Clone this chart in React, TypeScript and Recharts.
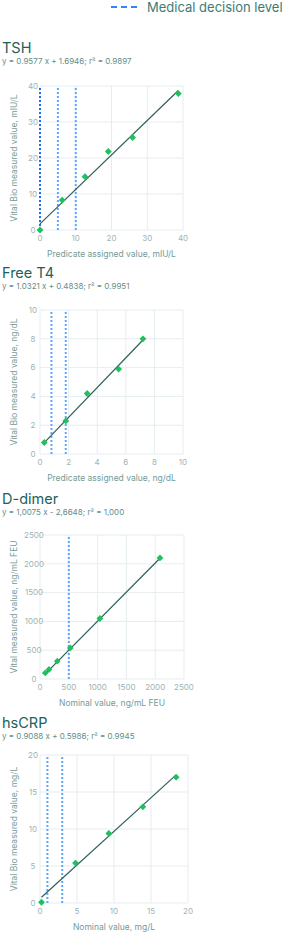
import React from 'react';
import { ScatterChart, Scatter, XAxis, YAxis, CartesianGrid, ReferenceLine } from 'recharts';

// TSH
const tshX = [0, 6.2, 12.6, 19.1, 25.9, 38.7];
const tshY = [0, 8.3, 14.8, 21.8, 25.7, 37.9];
const tshDecision = [0, 5, 10];
const tshTicks = [0, 10, 20, 30, 40];

// Free T4
const ft4X = [0.3, 1.8, 3.3, 5.5, 7.2];
const ft4Y = [0.8, 2.3, 4.2, 5.9, 8.0];
const ft4Decision = [0.8, 1.8];
const ft4Ticks = [0, 2, 4, 6, 8, 10];

// D-dimer
const ddX = [92, 156, 300, 526, 1040, 2083];
const ddY = [105, 165, 310, 540, 1050, 2102];
const ddDecision = [500];
const ddTicks = [0, 500, 1000, 1500, 2000, 2500];

// hsCRP
const crpX = [0.2, 4.8, 9.3, 13.9, 18.4];
const crpY = [0.1, 5.4, 9.4, 13.0, 17.0];
const crpDecision = [1, 3];
const crpTicks = [0, 5, 10, 15, 20];

const FONT = 'Inter, "DejaVu Sans", sans-serif';
const TITLE = '#22615b';
const SUB = '#5f8d89';
const AXLAB = '#749b97';
const TICK = '#9db4b2';
const GRID = '#e6edf0';
const DOT = '#1fbf5f';
const FIT = '#2e5f5a';

const Diamond = (props: any) => {
  const { cx, cy } = props;
  const r = 3.4;
  return <path d={`M${cx},${cy - r}L${cx + r},${cy}L${cx},${cy + r}L${cx - r},${cy}Z`} fill={DOT} />;
};

type PanelProps = {
  top: number;
  width: number;
  plotH: number;
  xs: number[];
  ys: number[];
  decision: number[];
  strongFirst?: boolean;
  ticks: number[];
  slope: number;
  intercept: number;
  xLabel: string;
  yLabel: string;
  yTickX: number;
};

const Panel = ({ top, width, plotH, xs, ys, decision, strongFirst, ticks, slope, intercept, xLabel, yLabel, yTickX }: PanelProps) => {
  const data = xs.map((x, i) => ({ x, y: ys[i] }));
  const x0 = xs[0];
  const x1 = xs[xs.length - 1];
  const domain = [ticks[0], ticks[ticks.length - 1]];
  return (
    <div style={{ position: 'absolute', left: 0, top }}>
      <ScatterChart width={width} height={plotH + 40} margin={{ top: 10, right: 15, bottom: 0, left: 0 }}>
        <CartesianGrid stroke={GRID} strokeWidth={1} />
        <XAxis
          type="number"
          dataKey="x"
          domain={domain}
          ticks={ticks}
          interval={0}
          axisLine={false}
          tickLine={false}
          tickSize={0}
          tickMargin={5}
          height={30}
          tick={{ fontSize: 8, fill: TICK, fontFamily: FONT }}
          label={{ value: xLabel, position: 'insideBottom', offset: 3, style: { fontSize: 8.5, fill: AXLAB, fontFamily: FONT } }}
        />
        <YAxis
          type="number"
          dataKey="y"
          domain={domain}
          ticks={ticks}
          interval={0}
          axisLine={false}
          tickLine={false}
          tickSize={0}
          tickMargin={40 - yTickX}
          width={40}
          tick={{ fontSize: 8, fill: TICK, fontFamily: FONT, textAnchor: 'middle' }}
          label={{ value: yLabel, angle: -90, position: 'insideLeft', offset: 14, style: { fontSize: 8.5, fill: AXLAB, fontFamily: FONT, textAnchor: 'middle' } }}
        />
        {decision.map((d, i) => (
          <ReferenceLine
            key={i}
            x={d}
            stroke={strongFirst && i === 0 ? '#1f6ff5' : '#5ea6ff'}
            strokeWidth={2}
            strokeDasharray="2 2"
          />
        ))}
        <ReferenceLine
          segment={[{ x: x0, y: slope * x0 + intercept }, { x: x1, y: slope * x1 + intercept }]}
          stroke={FIT}
          strokeWidth={1.2}
        />
        <Scatter data={data} shape={<Diamond />} isAnimationActive={false} />
      </ScatterChart>
    </div>
  );
};

const Heading = ({ y, title, eq }: { y: number; title: string; eq: string }) => (
  <g fontFamily={FONT}>
    <text x={2} y={y} fontSize={14.5} fill={TITLE} fontWeight={400}>{title}</text>
    <text x={2} y={y + 11} fontSize={8} fill={SUB}>{eq}</text>
  </g>
);

export default function App() {
  return (
    <div style={{ position: 'relative', width: 284, height: 932, background: '#fff', overflow: 'hidden' }}>
      <style>{'body{margin:0}'}</style>
      <svg width={284} height={932} style={{ position: 'absolute', left: 0, top: 0 }}>
        <line x1={111} y1={7} x2={137} y2={7} stroke="#2f86ff" strokeWidth={2} strokeDasharray="6 4" />
        <text x={147} y={11.5} fontSize={13} fill="#3e7a74" fontFamily={FONT}>Medical decision level</text>
        <Heading y={53} title="TSH" eq="y = 0.9577 x + 1.6946; r² = 0.9897" />
        <Heading y={278} title="Free T4" eq="y = 1.0321 x + 0.4838; r² = 0.9951" />
        <Heading y={504} title="D-dimer" eq="y = 1,0075 x - 2,6648; r² = 1,000" />
        <Heading y={728} title="hsCRP" eq="y = 0.9088 x + 0.5986; r² = 0.9945" />
      </svg>
      <Panel top={76} width={198} plotH={144} xs={tshX} ys={tshY} decision={tshDecision} strongFirst ticks={tshTicks}
        slope={0.9577} intercept={1.6946} xLabel="Predicate assigned value, mIU/L" yLabel="Vital Bio measured value, mIU/L" yTickX={33} />
      <Panel top={300} width={198} plotH={144} xs={ft4X} ys={ft4Y} decision={ft4Decision} ticks={ft4Ticks}
        slope={1.0321} intercept={0.4838} xLabel="Predicate assigned value, ng/dL" yLabel="Vital Bio measured value, ng/dL" yTickX={33} />
      <Panel top={525} width={199} plotH={144} xs={ddX} ys={ddY} decision={ddDecision} ticks={ddTicks}
        slope={1.0075} intercept={-2.6648} xLabel="Nominal value, ng/mL FEU" yLabel="Vital measured value, ng/mL FEU" yTickX={34} />
      <Panel top={745} width={203} plotH={148} xs={crpX} ys={crpY} decision={crpDecision} ticks={crpTicks}
        slope={0.9088} intercept={0.5986} xLabel="Nominal value, mg/L" yLabel="Vital Bio measured value, mg/L" yTickX={33} />
    </div>
  );
}
